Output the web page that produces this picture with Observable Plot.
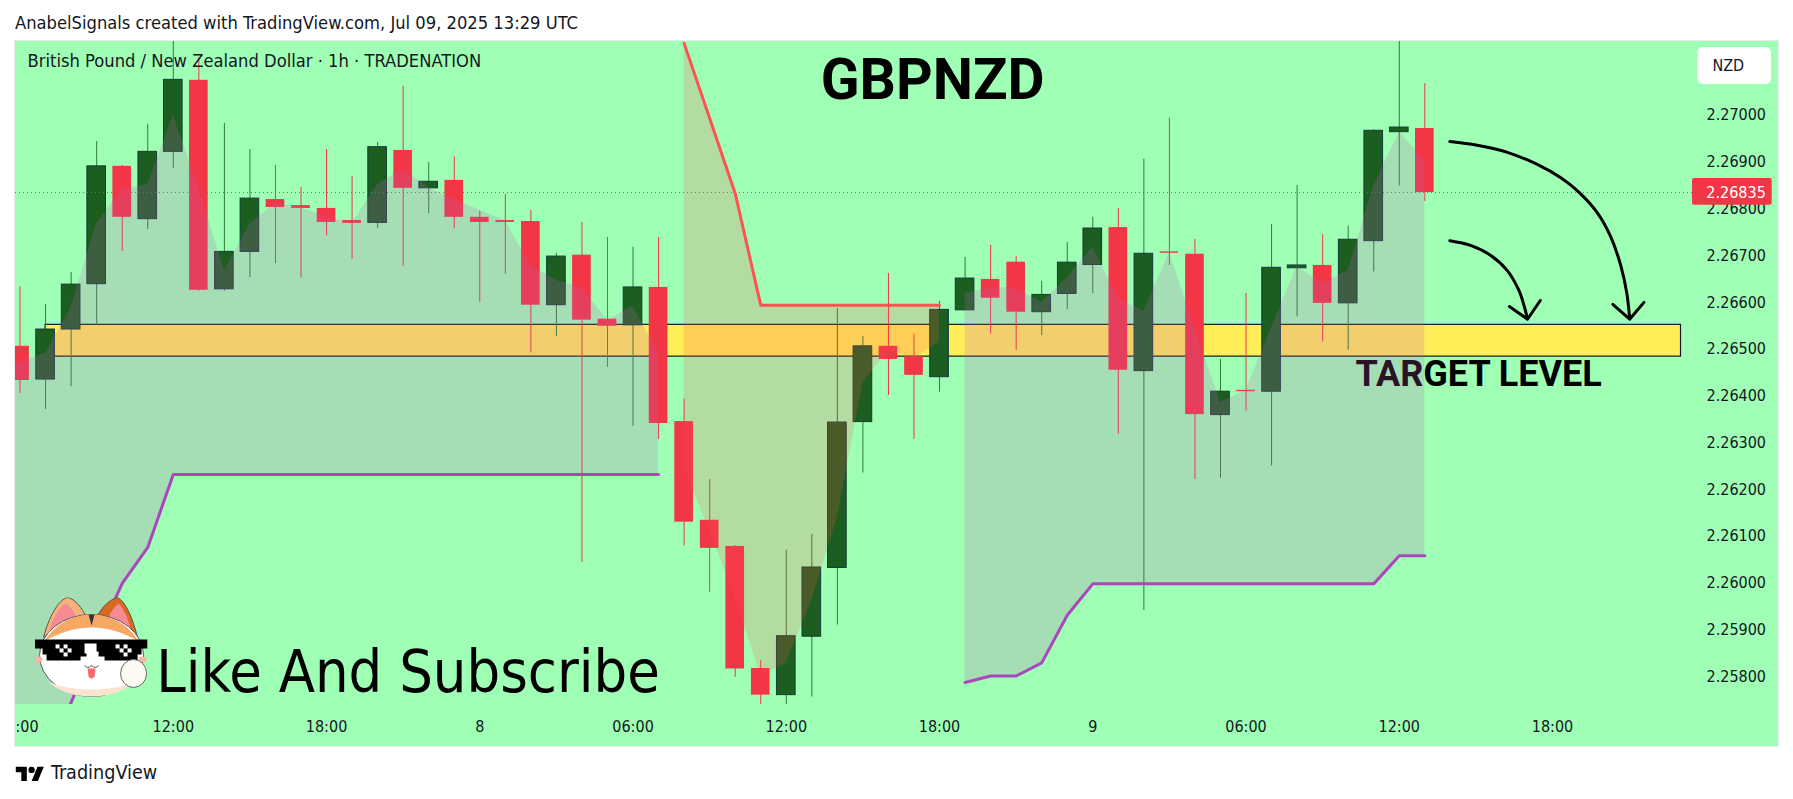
<!DOCTYPE html>
<html>
<head>
<meta charset="utf-8">
<script src="https://cdn.jsdelivr.net/npm/d3@7"></script>
<script src="https://cdn.jsdelivr.net/npm/@observablehq/plot@0.6"></script>
<style>
  html, body { margin: 0; padding: 0; background: #fff; width: 1793px; height: 799px; overflow: hidden; }
  body { font-family: "DejaVu Sans Condensed", "DejaVu Sans", sans-serif; color: #131722; }
  #head { height: 41px; box-sizing: border-box; padding: 13px 0 0 15px; font-size: 18.2px; line-height: 20px; white-space: nowrap; }
  #chart { margin-left: 15px; width: 1763px; height: 705px; }
  #chart svg { display: block; outline: 1px solid #e8ebee; }
  #foot { display: flex; align-items: center; gap: 6px; margin: 16px 0 0 15px; font-size: 19.6px; line-height: 22px; }
</style>
</head>
<body>
<div id="head">AnabelSignals created with TradingView.com, Jul 09, 2025 13:29 UTC</div>
<div id="chart"></div>
<div id="foot"><svg width="30" height="15" viewBox="0 3 36 19"><path d="M14 22H7V11H0V4h14v18zM28 22h-8l7.5-18h8L28 22z" fill="#000"/><circle cx="20" cy="8" r="4" fill="#000"/></svg><span>TradingView</span></div>
<script>
const startHour = Date.UTC(2025, 6, 7, 6);
const atHour = h => new Date(startHour + h * 3600e3);

const open = [2.26506,2.26435,2.26542,2.26639,2.26891,2.26778,2.26922,2.27075,2.26628,2.26708,2.26820,2.26807,2.26801,2.26775,2.26770,2.26925,2.26844,2.26861,2.26782,2.26775,2.26773,2.26594,2.26701,2.26564,2.26551,2.26632,2.26345,2.26134,2.26078,2.25817,2.25760,2.25885,2.26032,2.26344,2.26506,2.26484,2.26440,2.26583,2.26649,2.26686,2.26579,2.26618,2.26680,2.26760,2.26453,2.26708,2.26703,2.26359,2.26412,2.26409,2.26673,2.26679,2.26598,2.26731,2.26964,2.26972];
const close = [2.26433,2.26542,2.26638,2.26891,2.26782,2.26922,2.27076,2.26626,2.26708,2.26822,2.26803,2.26801,2.26771,2.26769,2.26932,2.26844,2.26858,2.26782,2.26771,2.26771,2.26594,2.26698,2.26562,2.26549,2.26632,2.26341,2.26130,2.26074,2.25816,2.25760,2.25886,2.26033,2.26343,2.26506,2.26478,2.26444,2.26584,2.26651,2.26609,2.26579,2.26616,2.26685,2.26758,2.26455,2.26704,2.26705,2.26360,2.26409,2.26409,2.26674,2.26679,2.26598,2.26734,2.26967,2.26974,2.26835];
const high = [2.26633,2.26596,2.26664,2.26944,2.26893,2.26981,2.27182,2.27123,2.26983,2.26927,2.26893,2.26846,2.26927,2.26870,2.26942,2.27062,2.26899,2.26912,2.26795,2.26831,2.26797,2.26705,2.26771,2.26739,2.26718,2.26739,2.26393,2.26221,2.26080,2.25834,2.26070,2.26104,2.26587,2.26527,2.26662,2.26532,2.26602,2.26696,2.26722,2.26698,2.26645,2.26728,2.26782,2.26801,2.26906,2.26994,2.26735,2.26478,2.26619,2.26767,2.26850,2.26745,2.26763,2.26969,2.27203,2.27068];
const low = [2.26405,2.26371,2.26420,2.26551,2.26709,2.26756,2.26887,2.26624,2.26624,2.26653,2.26683,2.26652,2.26742,2.26692,2.26758,2.26677,2.26790,2.26758,2.26600,2.26660,2.26492,2.26527,2.26044,2.26461,2.26335,2.26307,2.26079,2.25980,2.25798,2.25740,2.25740,2.25756,2.25910,2.26235,2.26401,2.26307,2.26408,2.26583,2.26532,2.26497,2.26529,2.26585,2.26619,2.26318,2.25941,2.26679,2.26221,2.26224,2.26367,2.26250,2.26569,2.26515,2.26498,2.26665,2.26849,2.26816];

// Smoothed price band edge, hourly
const midLine = [2.26472,2.26491,2.26589,2.26769,2.26840,2.26852,2.27000,2.26846,2.26668,2.26767,2.26812,2.26803,2.26782,2.26769,2.26852,2.26884,2.26846,2.26820,2.26797,2.26775,2.26679,2.26647,2.26632,2.26562,2.26592,2.26491,2.26245,2.26112,2.25969,2.25802,2.25828,2.25963,2.26140,2.26427,2.26497,2.26480,2.26514,2.26619,2.26632,2.26630,2.26600,2.26653,2.26718,2.26609,2.26581,2.26707,2.26544,2.26386,2.26412,2.26547,2.26677,2.26641,2.26668,2.26850,2.26964,2.26904];
// Support stop (purple): hours 0-25 and 37-55
const stopFirst = [2.25535,2.25620,2.25744,2.25877,2.25999,2.26076,2.26232,2.26232,2.26232,2.26232,2.26232,2.26232,2.26232,2.26232,2.26232,2.26232,2.26232,2.26232,2.26232,2.26232,2.26232,2.26232,2.26232,2.26232,2.26232,2.26232];
const stopLast = [2.25787,2.25801,2.25801,2.25829,2.25931,2.25998,2.25998,2.25998,2.25998,2.25998,2.25998,2.25998,2.25998,2.25998,2.25998,2.25998,2.25998,2.26058,2.26058];
// Resistance stop (red): hours 26-36
const stopHigh = [2.27154,2.26994,2.26833,2.26594,2.26594,2.26594,2.26594,2.26594,2.26594,2.26594,2.26594];
// The hour before the first candle, only partly visible at the left edge
const preMid = 2.26460, preStop = 2.25450;

const timeTickHours = [6,12,18,24,30,36,42,48,54,60];
const timeTickLabels = ["12:00","18:00","8","06:00","12:00","18:00","9","06:00","12:00","18:00"];
const priceTicks = [2.258,2.259,2.260,2.261,2.262,2.263,2.264,2.265,2.266,2.267,2.268,2.269,2.270];
const lastPrice = 2.26835;

const zoneTop = 2.26552, zoneBottom = 2.26484, zoneStartHour = 1, zoneEndHour = 65.03;

const longArrowHours = [55.98,57.05,58.23,59.40,60.31,61.03,61.75,62.28,62.67,62.91,63.02];
const longArrowPrices = [2.26944,2.26936,2.26921,2.26895,2.26867,2.26836,2.26792,2.26740,2.26679,2.26619,2.26565];
const longHeadHours = [62.36,63.02,63.58];
const longHeadPrices = [2.26596,2.26564,2.26600];
const shortArrowHours = [55.98,56.79,57.57,58.23,58.68,58.88,59.02];
const shortArrowPrices = [2.26732,2.26722,2.26701,2.26668,2.26626,2.26594,2.26565];
const shortHeadHours = [58.31,59.02,59.52];
const shortHeadPrices = [2.26591,2.26564,2.26604];

const candles = open.map((o, i) => ({t: atHour(i), i, open: o, close: close[i], high: high[i], low: low[i]}));
const up = candles.filter(d => d.close >= d.open);
const down = candles.filter(d => d.close < d.open);
const bodyHalf = 0.365 * 3600e3;
const x1 = d => new Date(+d.t - bodyHalf);
const x2 = d => new Date(+d.t + bodyHalf);
const band = (stops, from) => stops.map((s, k) => ({t: atHour(from + k), stop: s, mid: midLine[from + k]}));
const bandFirst = [{t: atHour(-1), stop: preStop, mid: preMid}, ...band(stopFirst, 0)];
const bandHigh = band(stopHigh, 26), bandLast = band(stopLast, 37);
const path = (hs, ps) => hs.map((h, k) => ({t: atHour(h), p: ps[k]}));

const catSvg = `<svg xmlns="http://www.w3.org/2000/svg" viewBox="0 0 113 100">
<path d="M9 40C14 20 24 2 33 0c8 2 14 10 19 20L30 24z" fill="#f7b27a" stroke="#555" stroke-width="1"/>
<path d="M15 32C19 18 26 8 32 6c5 4 9 10 12 18z" fill="#f58a94"/>
<path d="M62 20C67 10 75 2 83 0c8 4 15 20 20 40L80 24z" fill="#d8691e" stroke="#555" stroke-width="1"/>
<path d="M72 24C76 14 80 9 84 6c6 6 10 16 12 26z" fill="#f58a94"/>
<ellipse cx="57" cy="58" rx="52" ry="41" fill="#fff" stroke="#555" stroke-width="1"/>
<path d="M10 44C20 26 40 17 57 17s37 9 47 27c-12-8-30-14-47-14S22 36 10 44z" fill="#f6a864"/>
<path d="M13 84c14 12 30 15 44 15s30-3 44-15c-14 6-30 8-44 8s-30-2-44-8z" fill="#fbe3d0"/>
<path d="M54 17h6l-3 11z" fill="#333"/>
<path d="M0 42h113v9h-6v6h-4v6H70v-4h-6v-5H52v5h-6v4H12v-6H8v-6H0z" fill="#000"/>
<g fill="#fff"><rect x="21" y="47" width="4" height="4"/><rect x="29" y="47" width="4" height="4"/><rect x="25" y="51" width="4" height="4"/><rect x="33" y="51" width="4" height="4"/><rect x="29" y="55" width="4" height="4"/><rect x="81" y="47" width="4" height="4"/><rect x="89" y="47" width="4" height="4"/><rect x="85" y="51" width="4" height="4"/><rect x="93" y="51" width="4" height="4"/><rect x="89" y="55" width="4" height="4"/><path d="M50 46h12v10h-12z"/></g>
<ellipse cx="4" cy="62" rx="4" ry="3" fill="#f7b5a5"/><ellipse cx="108" cy="62" rx="4" ry="3" fill="#f7b5a5"/>
<path d="M50 68q3 4 7 0q4 4 7 0" fill="none" stroke="#555" stroke-width="1"/>
<path d="M53 71h8l-1 8q-3 4-6 0z" fill="#f56a6a"/>
<ellipse cx="99" cy="76" rx="13" ry="14" fill="#fdfaf4" stroke="#666" stroke-width="1"/>
</svg>`;
const catUri = "data:image/svg+xml," + encodeURIComponent(catSvg);

const INK = "#131722", RED = "#f23645", DARK = "#1b5e20", WICKUP = "#2e7d32", PURPLE = "#ab47bc", TREND = "#ff5252";
const NAME = "DejaVu Sans Condensed, DejaVu Sans, sans-serif";

const plot = Plot.plot({
  width: 1763, height: 705,
  marginLeft: 0, marginRight: 86, marginTop: 0, marginBottom: 42,
  style: {background: "#9fffb5", fontFamily: NAME, fontSize: "16px", color: INK},
  x: {type: "utc", domain: [atHour(-0.178), atHour(65.48)], axis: null},
  y: {type: "linear", domain: [2.2574, 2.27158], axis: null},
  marks: [
    Plot.rect([0], {x1: atHour(zoneStartHour), x2: atHour(zoneEndHour), y1: zoneBottom, y2: zoneTop, fill: "#ffee58", stroke: INK, strokeWidth: 1.2}),

    Plot.text(["TARGET LEVEL"], {x: atHour(52.29), y: 2.26445, textAnchor: "start", fontFamily: "Roboto", fontWeight: 700, fontSize: 36, fill: "#000"}),

    Plot.ruleX(up, {x: "t", y1: "low", y2: "high", stroke: WICKUP, strokeWidth: 1, clip: true}),
    Plot.ruleX(down, {x: "t", y1: "low", y2: "high", stroke: RED, strokeWidth: 1, clip: true}),
    Plot.rect(up, {x1, x2, y1: "open", y2: "close", fill: DARK, stroke: "#133c3a", strokeWidth: 1, clip: true}),
    Plot.rect(down, {x1, x2, y1: "open", y2: "close", fill: RED, clip: true}),

    Plot.ruleY([lastPrice], {stroke: RED, strokeWidth: 1, strokeDasharray: "1,3"}),

    Plot.areaY(bandFirst, {x: "t", y1: "mid", y2: "stop", fill: "rgb(187,95,186)", fillOpacity: 0.21, clip: true}),
    Plot.areaY(bandHigh, {x: "t", y1: "mid", y2: "stop", fill: TREND, fillOpacity: 0.2, clip: true}),
    Plot.areaY(bandLast, {x: "t", y1: "mid", y2: "stop", fill: "rgb(187,95,186)", fillOpacity: 0.21, clip: true}),
    Plot.line(bandFirst, {x: "t", y: "stop", stroke: PURPLE, strokeWidth: 3, clip: true}),
    Plot.line(bandHigh, {x: "t", y: "stop", stroke: TREND, strokeWidth: 3, clip: true}),
    Plot.line(bandLast, {x: "t", y: "stop", stroke: PURPLE, strokeWidth: 3, clip: true}),

    Plot.line(path(longArrowHours, longArrowPrices), {x: "t", y: "p", curve: "catmull-rom", stroke: "#000", strokeWidth: 3}),
    Plot.line(path(longHeadHours, longHeadPrices), {x: "t", y: "p", stroke: "#000", strokeWidth: 3}),
    Plot.line(path(shortArrowHours, shortArrowPrices), {x: "t", y: "p", curve: "catmull-rom", stroke: "#000", strokeWidth: 3}),
    Plot.line(path(shortHeadHours, shortHeadPrices), {x: "t", y: "p", stroke: "#000", strokeWidth: 3}),

    Plot.text(["British Pound / New Zealand Dollar · 1h · TRADENATION"], {frameAnchor: "top-left", dx: 12, dy: 13, fontSize: 18.2, fill: INK}),
    Plot.text(["GBPNZD"], {x: atHour(35.73), y: 2.27075, fontFamily: "Roboto", fontWeight: 700, fontSize: 57, fill: "#000"}),
    Plot.text(["Like And Subscribe"], {x: atHour(5.33), y: 2.25807, textAnchor: "start", fontSize: 59, fill: "#000"}),
    Plot.image([0], {x: atHour(2.78), y: 2.25862, src: catUri, width: 113, height: 100}),

    Plot.axisX(timeTickHours.map(atHour), {anchor: "bottom", tickSize: 0, tickPadding: 16.5, label: null, fontSize: 16,
      tickFormat: d => timeTickLabels[timeTickHours.indexOf((+d - startHour) / 3600e3)]}),
    Plot.text([":00"], {frameAnchor: "bottom-left", textAnchor: "start", lineAnchor: "middle", dy: 22, fontSize: 16, fill: INK}),
    Plot.axisY(priceTicks, {anchor: "right", tickSize: 0, tickPadding: 14, label: null, fontSize: 16, tickFormat: d => d.toFixed(5)}),

    Plot.rect([0], {x1: atHour(65.48), x2: atHour(68.6), y1: 2.26808, y2: 2.26865, fill: RED, rx: 2}),
    Plot.text([lastPrice.toFixed(5)], {x: atHour(66.02), y: lastPrice, textAnchor: "start", fill: "#fff", fontSize: 16}),
    Plot.rect([0], {x1: atHour(65.7), x2: atHour(68.57), y1: 2.27066, y2: 2.27145, fill: "#fff", rx: 5}),
    Plot.text(["NZD"], {x: atHour(66.88), y: 2.27105, fill: INK, fontSize: 16})
  ]
});
document.getElementById("chart").appendChild(plot);
</script>
</body>
</html>
